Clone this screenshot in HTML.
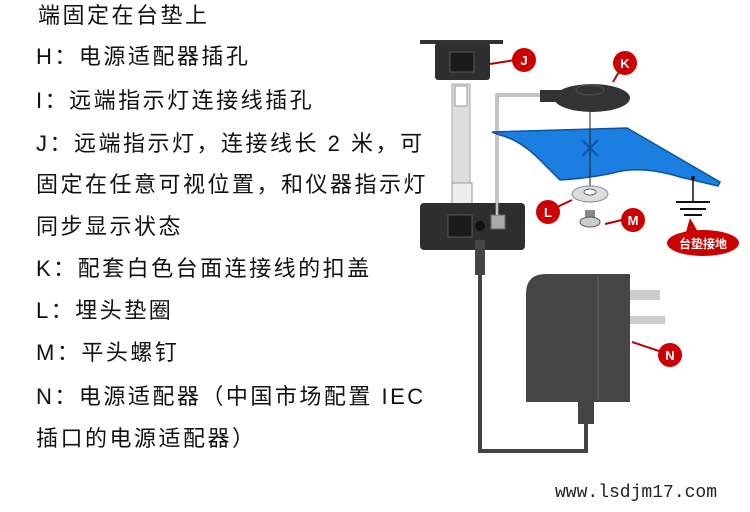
<!DOCTYPE html>
<html><head><meta charset="utf-8"><style>
body{margin:0;width:750px;height:512px;background:#fff;position:relative;overflow:hidden;font-family:"Liberation Sans","Noto Sans CJK SC",sans-serif}
.t{position:absolute;left:36px;font-size:22px;letter-spacing:2.5px;color:#111;white-space:nowrap;line-height:26px}
.url{position:absolute;left:555px;top:483px;font-family:"Liberation Mono",monospace;font-size:18px;color:#222}
svg{position:absolute;left:0;top:0}
</style></head><body>
<div class="t" style="top:3px;left:38px">端固定在台垫上</div>
<div class="t" style="top:44px">H：电源适配器插孔</div>
<div class="t" style="top:88px">I：远端指示灯连接线插孔</div>
<div class="t" style="top:131px">J：远端指示灯，连接线长 2 米，可</div>
<div class="t" style="top:172px">固定在任意可视位置，和仪器指示灯</div>
<div class="t" style="top:214px">同步显示状态</div>
<div class="t" style="top:256px">K：配套白色台面连接线的扣盖</div>
<div class="t" style="top:298px">L：埋头垫圈</div>
<div class="t" style="top:340px">M：平头螺钉</div>
<div class="t" style="top:384px">N：电源适配器（中国市场配置 IEC</div>
<div class="t" style="top:426px">插口的电源适配器）</div>
<div class="url">www.lsdjm17.com</div>
<svg width="750" height="512" viewBox="0 0 750 512">
<rect x="420" y="40" width="83" height="4" fill="#333"/>
<rect x="435" y="43" width="55" height="37" rx="3" fill="#2e2e2e"/>
<rect x="450" y="52" width="24" height="20" fill="#1a1a1a" stroke="#555"/>
<line x1="490" y1="64" x2="515" y2="60" stroke="#b00" stroke-width="2"/>
<circle cx="524" cy="60" r="12" fill="#c00"/>
<text x="524" y="65" font-size="13" font-weight="bold" fill="#fff" text-anchor="middle" font-family="Liberation Sans">J</text>
<rect x="452" y="84" width="18" height="100" fill="#ddd" stroke="#aaa"/>
<rect x="455" y="86" width="12" height="20" fill="#fff" stroke="#999"/>
<rect x="452" y="183" width="20" height="30" fill="#eee" stroke="#999"/>
<rect x="420" y="203" width="105" height="47" rx="4" fill="#2e2e2e"/>
<rect x="448" y="215" width="24" height="22" fill="#1a1a1a" stroke="#555"/>
<rect x="491" y="215" width="14" height="14" fill="#aaa" stroke="#666"/>
<circle cx="480" cy="226" r="5" fill="#111"/>
<path d="M497 215 V95 H545" fill="none" stroke="#888" stroke-width="3"/>
<path d="M497 215 V95 H545" fill="none" stroke="#fff" stroke-width="1"/>
<path d="M492 132 L627 128 L720 182 L718 186 L680 177 Q640 165 613 173 Q590 178 560 180 Q545 165 540 160 Q520 140 500 135 Z" fill="#1a7fe0" stroke="#1050a0" stroke-width="1.5"/>
<line x1="590" y1="112" x2="590" y2="190" stroke="#222"/>
<path d="M582 140 L598 156 M598 140 L582 156" stroke="#1050a0" stroke-width="2"/>
<path d="M540 90 H570 V102 H540 Z" fill="#333"/>
<ellipse cx="592" cy="98" rx="38" ry="14" fill="#333"/>
<ellipse cx="590" cy="90" rx="14" ry="5" fill="none" stroke="#555"/>
<line x1="613" y1="82" x2="620" y2="70" stroke="#b00" stroke-width="2"/>
<circle cx="625" cy="63" r="12" fill="#c00"/>
<text x="625" y="68" font-size="13" font-weight="bold" fill="#fff" text-anchor="middle" font-family="Liberation Sans">K</text>
<ellipse cx="590" cy="194" rx="18" ry="8" fill="#ddd" stroke="#888"/>
<ellipse cx="590" cy="192" rx="6" ry="3" fill="#fff" stroke="#666"/>
<line x1="572" y1="200" x2="555" y2="208" stroke="#b00" stroke-width="2"/>
<circle cx="548" cy="212" r="12" fill="#c00"/>
<text x="548" y="217" font-size="13" font-weight="bold" fill="#fff" text-anchor="middle" font-family="Liberation Sans">L</text>
<rect x="585" y="210" width="10" height="10" fill="#888"/>
<ellipse cx="590" cy="222" rx="10" ry="5" fill="#ccc" stroke="#555"/>
<line x1="605" y1="224" x2="622" y2="220" stroke="#b00" stroke-width="2"/>
<circle cx="633" cy="220" r="12" fill="#c00"/>
<text x="633" y="225" font-size="13" font-weight="bold" fill="#fff" text-anchor="middle" font-family="Liberation Sans">M</text>
<circle cx="693" cy="178" r="2" fill="#111"/>
<line x1="693" y1="178" x2="693" y2="202" stroke="#111" stroke-width="1.5"/>
<line x1="676" y1="202" x2="710" y2="202" stroke="#111" stroke-width="2"/>
<line x1="680" y1="209" x2="706" y2="209" stroke="#111" stroke-width="2"/>
<line x1="684" y1="215" x2="702" y2="215" stroke="#111" stroke-width="2"/>
<path d="M690 218 L698 232 L686 232 Z" fill="#c00"/>
<ellipse cx="703" cy="243" rx="36" ry="13" fill="#c00"/>
<text x="703" y="248" font-size="12" font-weight="bold" fill="#fff" text-anchor="middle">台垫接地</text>
<rect x="475" y="240" width="10" height="35" fill="#444"/>
<path d="M480 275 V451 H586 V420" fill="none" stroke="#444" stroke-width="4"/>
<path d="M546 274 H630 V402 H526 V294 Q526 274 546 274 Z" fill="#454545"/>
<line x1="598" y1="276" x2="598" y2="400" stroke="#666"/>
<rect x="630" y="290" width="30" height="10" fill="#ccc"/>
<rect x="630" y="316" width="35" height="8" fill="#ccc"/>
<rect x="578" y="402" width="16" height="22" fill="#444"/>
<line x1="632" y1="342" x2="662" y2="352" stroke="#b00" stroke-width="2"/>
<circle cx="670" cy="355" r="12" fill="#c00"/>
<text x="670" y="360" font-size="13" font-weight="bold" fill="#fff" text-anchor="middle" font-family="Liberation Sans">N</text>
</svg>
</body></html>
